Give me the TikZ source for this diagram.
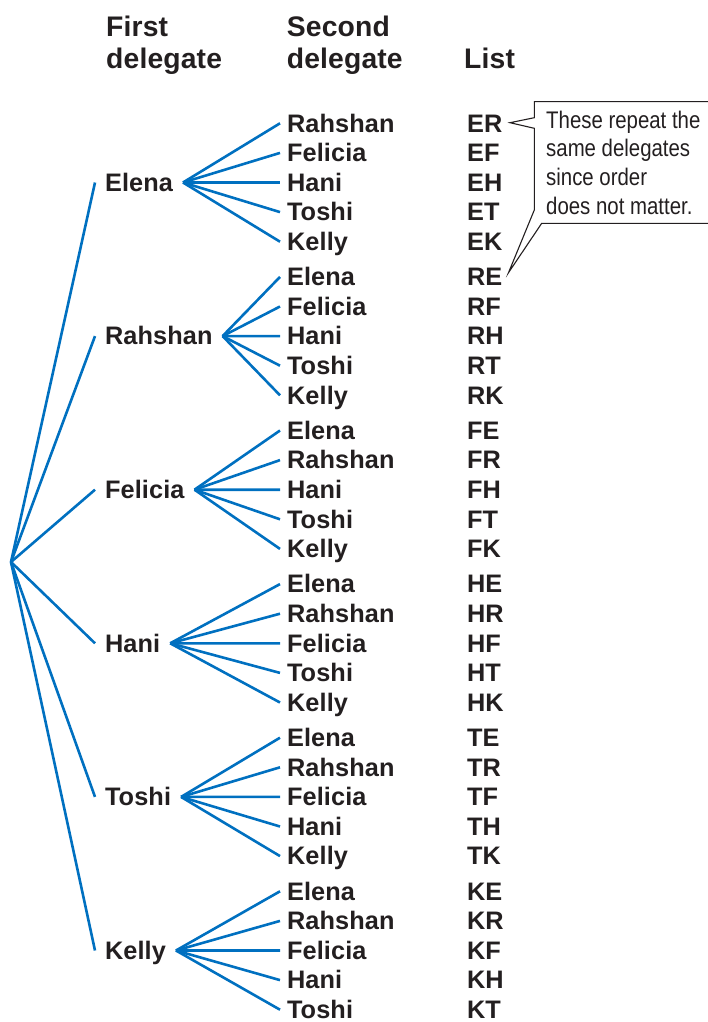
\documentclass[tikz,border=0pt]{standalone}
\usepackage{fontspec}
\setmainfont{Liberation Sans}
\newfontfamily\lblfont[LetterSpace=0.5]{Liberation Sans}
\newfontfamily\notefont[FakeStretch=0.85]{Liberation Sans}
\definecolor{branchblue}{RGB}{0,112,192}
\definecolor{ink}{RGB}{35,31,32}
\begin{document}
\begin{tikzpicture}[x=1pt,y=-1pt,
  hdr/.style={font=\lblfont\bfseries\fontsize{28.3}{33}\selectfont, anchor=base west, inner sep=0pt, text=ink},
  firstlbl/.style={font=\lblfont\bfseries\fontsize{25.3}{29}\selectfont, anchor=west, inner xsep=10pt, inner ysep=0pt, outer sep=0pt, text height=17.6pt, text depth=0pt, text=ink},
  secondlbl/.style={font=\lblfont\bfseries\fontsize{25.3}{29}\selectfont, anchor=west, inner xsep=7pt, inner ysep=0pt, outer sep=0pt, text height=17.6pt, text depth=0pt, text=ink},
  pairlbl/.style={font=\lblfont\bfseries\fontsize{25.3}{29}\selectfont, anchor=west, inner sep=0pt, outer sep=0pt, text height=17.6pt, text depth=0pt, text=ink},
  branch/.style={draw=branchblue, line width=2.6pt},
  note/.style={font=\notefont\fontsize{24}{28.7}\selectfont, anchor=base west, inner sep=0pt, text=ink},
  callout/.style={draw=ink, line width=1.1pt, line join=miter}
]
\useasboundingbox (0,0) rectangle (708,1022);

% headers
\node[hdr] (h1a) at (106,36.7) {First};
\node[hdr] (h1b) at (106,68.3) {delegate};
\node[hdr] (h2a) at (286.7,36.7) {Second};
\node[hdr] (h2b) at (286.7,68.3) {delegate};
\node[hdr] (h3) at (464,68.3) {List};

\coordinate (root) at (11,562);

\foreach \g/\n/\a/\others in {
  0/Elena/E/{Rahshan/R,Felicia/F,Hani/H,Toshi/T,Kelly/K},
  1/Rahshan/R/{Elena/E,Felicia/F,Hani/H,Toshi/T,Kelly/K},
  2/Felicia/F/{Elena/E,Rahshan/R,Hani/H,Toshi/T,Kelly/K},
  3/Hani/H/{Elena/E,Rahshan/R,Felicia/F,Toshi/T,Kelly/K},
  4/Toshi/T/{Elena/E,Rahshan/R,Felicia/F,Hani/H,Kelly/K},
  5/Kelly/K/{Elena/E,Rahshan/R,Felicia/F,Hani/H,Toshi/T}}{
  \node[firstlbl] (f\g) at (95,{182.5+153.6*\g}) {\n};
  \draw[branch] (root) -- (f\g.west);
  \foreach \o/\b [count=\i from 0] in \others {
    \node[secondlbl] (s\g\i) at (280,{123.3+153.6*\g+29.6*\i}) {\o};
    \node[pairlbl] (l\g\i) at (467,{123.3+153.6*\g+29.6*\i}) {\a\b};
    \draw[branch] (f\g.east) -- (s\g\i.west);
  }
}

% callout
\coordinate (t1) at (510,122.7);
\coordinate (t2) at (508.5,272.7);
\draw[callout] (712,101.7) -- (534.3,101.7) -- (534.3,117.7) -- (t1) -- (534.3,128.3)
  -- (534.3,210) -- (t2) -- (541.7,223.3) -- (712,223.3);
\node[note] (n1) at (546,128.3) {These repeat the};
\node[note] (n2) at (546,157) {same delegates};
\node[note] (n3) at (546,185.7) {since order};
\node[note] (n4) at (546,214.3) {does not matter.};
\end{tikzpicture}
\end{document}
